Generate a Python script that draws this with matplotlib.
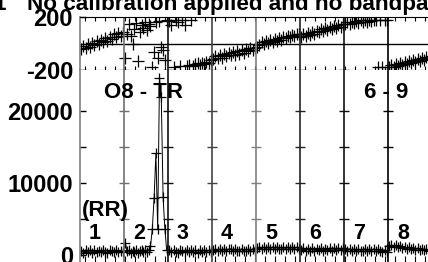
#!/usr/bin/env python3
"""
plot.py - phase / amplitude vs time, one panel per scan
"""

import numpy as np
import matplotlib
matplotlib.use("Agg")
import matplotlib.pyplot as plt

plt.rcParams["font.family"] = ["Liberation Sans", "DejaVu Sans"]
plt.rcParams["font.weight"] = "bold"

W, H = 428, 262

# scan windows on the time axis (one unit per scan)
SCAN_START = [0.03, 1.03, 2.03, 3.03, 4.03, 5.03, 6.03, 7.03]
SCAN_END = [0.97, 1.97, 2.97, 3.97, 4.97, 5.97, 6.97, 7.97]
SCAN_LABELS = ["1", "2", "3", "4", "5", "6", "7", "8"]

# phase (deg), per scan
phase_1 = [-40, -18, -32, -5, -24, 4, -12, 16, -2, 28, 8, 40, 22, 52, 34, 68,
           48, 80, 60, 84]
phase_2 = [-111, 75, 150, 55, 0, 110, 158, -133, 88, 140, 118, 165, 100, 150,
           132, -178, -67, 160, -111, 172, -30, -52, -126, 176]
phase_3 = [172, 142, -178, 180, 160, -172, 175, 138, -170, -162, 178, -170,
           -158, -150, -162, -145, -152, -136, -144, -126]
phase_4 = [-120, -96, -112, -88, -106, -82, -98, -74, -90, -66, -84, -58,
           -76, -52, -68, -44, -60, -36, -50, -32]
phase_5 = [-30, -12, 14, 0, 22, 6, 28, 14, 36, 22, 44, 30, 52, 38, 60, 46,
           66, 54, 74, 68]
phase_6 = [50, 72, 58, 80, 66, 90, 74, 98, 84, 106, 92, 114, 100, 124, 108,
           132, 118, 142, 128, 150]
phase_7 = [146, 162, 150, 166, 154, 170, 158, 174, 162, 178, 166, 180, 170,
           179, 174, -178, 178, -174, 176, 180]
phase_8 = [-178, -162, -174, -154, -168, -146, -160, -140, -152, -132, -146,
           -124, -138, -116, -130, -108, -122, -100, -114, -96]

# amplitude, per scan
amp_1 = [520, 330, 710, 420, 640, 300, 690, 410, 600, 350, 720, 480, 340,
         680, 510, 390, 700, 450, 620, 380]
amp_2 = [1700, 500, 680, 330, 620, 420, 710, 320, 580, 690, 360, 650, 430,
         740, 1200, 3600, 7900, 14100, 3600, 24600, 21900, 8000, 3600, 650]
amp_3 = [660, 380, 720, 440, 330, 690, 520, 370, 710, 350, 640, 420, 680,
         330, 660, 390, 720, 370, 630, 450]
amp_4 = [650, 860, 500, 820, 540, 880, 520, 800, 840, 490, 860, 570, 520,
         890, 580, 530, 850, 510, 810, 560]
amp_5 = [950, 1150, 800, 1100, 780, 1180, 840, 1120, 790, 1160, 860, 800,
         1140, 820, 1100, 770, 1150, 830, 1090, 800]
amp_6 = [700, 920, 560, 880, 620, 950, 580, 900, 640, 960, 600, 890, 660,
         980, 620, 930, 680, 1000, 650, 920]
amp_7 = [820, 520, 880, 560, 840, 500, 860, 580, 540, 870, 510, 800, 560,
         840, 490, 790, 540, 460, 720, 480]
amp_8 = [1250, 1400, 1100, 1350, 1050, 1250, 950, 1180, 880, 1100, 820, 1020,
         760, 960, 700, 900, 640, 840, 600, 760]

PHASES = [phase_1, phase_2, phase_3, phase_4, phase_5, phase_6, phase_7, phase_8]
AMPS = [amp_1, amp_2, amp_3, amp_4, amp_5, amp_6, amp_7, amp_8]

LINE_COLORS = ["#707070", "#111111", "#444444", "#808080", "#222222",
               "#111111", "#000000"]


def px_axes(fig, left, top, right, bottom):
    return fig.add_axes([left / W, 1 - bottom / H, (right - left) / W,
                         (bottom - top) / H])


def main():
    fig = plt.figure(figsize=(W / 100, H / 100), dpi=100)
    ax_ph = px_axes(fig, 80, 17, 432, 70)
    ax_am = px_axes(fig, 80, 70, 432, 262)

    times = [np.linspace(s, e, len(p)) for s, e, p in zip(SCAN_START, SCAN_END, PHASES)]
    t_all = np.concatenate(times)
    ph_all = np.concatenate(PHASES)
    am_all = np.concatenate(AMPS)

    minor_x = np.arange(5, 352, 10) / 44.0

    # phase panel
    ax_ph.plot(t_all, ph_all, ls="none", marker="+", ms=8, mew=0.9, color="black")
    ax_ph.axhline(0, color="black", lw=1.0)
    ax_ph.set_xlim(0, 8)
    ax_ph.set_ylim(-200, 200)
    ax_ph.set_yticks([-200, 200])
    ax_ph.set_yticklabels(["-200", "200"])
    ax_ph.set_xticks([])
    ax_ph.set_xticks(minor_x, minor=True)
    ax_ph.tick_params(axis="x", which="minor", direction="in", length=3,
                      width=0.8, top=True, bottom=True)

    # amplitude panel
    ax_am.plot(t_all, am_all, lw=0.7, marker="+", ms=7, mew=0.9, color="black")
    ax_am.set_xlim(0, 8)
    ax_am.set_ylim(-972, 25694)
    ax_am.set_yticks([0, 10000, 20000])
    ax_am.set_yticklabels(["0", "10000", "20000"])
    ax_am.set_yticks([5000, 15000], minor=True)
    ax_am.set_xticks([])
    ax_am.set_xticks(minor_x, minor=True)
    ax_am.tick_params(axis="x", which="minor", direction="in", length=4.5,
                      width=0.8, bottom=True, top=False)
    ax_am.tick_params(axis="y", which="minor", direction="in", length=4.5, width=1)

    for ax, yt in [(ax_ph, [-200]), (ax_am, [5000, 10000, 15000, 20000])]:
        ax.tick_params(axis="y", which="major", direction="in", length=4.5,
                       width=1, pad=5, labelsize=17)
        for i, c in enumerate(LINE_COLORS):
            ax.axvline(i + 1, color=c, lw=1.2)
            ax.plot([i + 1] * len(yt), yt, ls="none", marker="_", ms=6.5,
                    mew=1, color=c)
        ax.spines["left"].set_color("#808080")
        ax.spines["left"].set_linewidth(1.2)
        ax.spines["right"].set_visible(False)
        for lab in ax.get_yticklabels():
            lab.set_fontweight("bold")

    ax_am.spines["top"].set_visible(False)
    ax_am.spines["bottom"].set_visible(False)

    # labels
    for i, lab in enumerate(SCAN_LABELS):
        ax_am.text(i + 0.34, 3050, lab, ha="center", va="center",
                   fontsize=15.5, fontweight="bold")
    ax_am.text(0.57, 6250, "(RR)", ha="center", va="center", fontsize=16,
               fontweight="bold")
    ax_am.text(1.45, 22500, "O8 - TR", ha="center", va="center", fontsize=16,
               fontweight="bold")
    ax_am.text(6.95, 22500, "6 - 9", ha="center", va="center", fontsize=16,
               fontweight="bold")

    fig.text(6 / W, 1 - 10 / H, "1", ha="right", va="baseline", fontsize=16.2,
             fontweight="bold")
    fig.text(27 / W, 1 - 10 / H, "No calibration applied and no bandpass applied",
             ha="left", va="baseline", fontsize=16.2, fontweight="bold")

    fig.savefig("out.png", dpi=100)
    plt.close(fig)


if __name__ == "__main__":
    main()
